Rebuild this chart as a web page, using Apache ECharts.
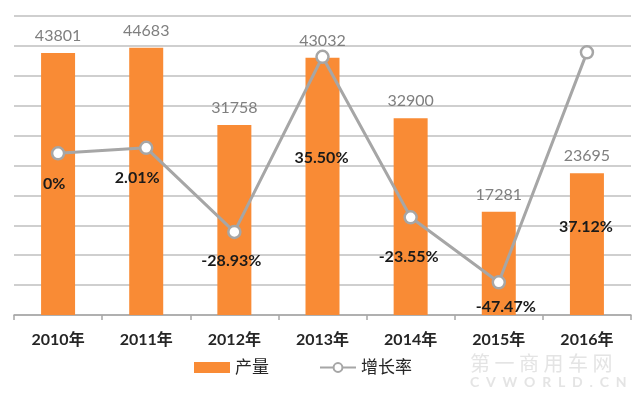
<!DOCTYPE html>
<html>
<head>
<meta charset="utf-8">
<script src="https://cdn.jsdelivr.net/npm/echarts@6/dist/echarts.min.js"></script>
<style>html,body{margin:0;padding:0;background:#fff;}#c{width:640px;height:395px;}</style>
</head>
<body>
<div id="c"></div>
<script>
const categories = ['2010年','2011年','2012年','2013年','2014年','2015年','2016年'];
const output = [43801, 44683, 31758, 43032, 32900, 17281, 23695];
const growth = [0, 2.01, -28.93, 35.50, -23.55, -47.47, 37.12];
const growthLabels = ['0%','2.01%','-28.93%','35.50%','-23.55%','-47.47%','37.12%'];
// label offsets (layout only) relative to each point
const growthLabelOffsets = [[-4,31],[-9,30],[-3,29],[-1,101],[-2,40],[7,25],[-1,174]];

const font = "Lato, 'Noto Sans CJK SC', sans-serif";
const chart = echarts.init(document.getElementById('c'));
chart.setOption({
  animation: false,
  textStyle: {fontFamily: font},
  grid: {left: 14, right: 9, top: 16, bottom: 80, containLabel: false},
  legend: {
    left: 189, top: 354, itemGap: 50, itemWidth: 36, itemHeight: 11,
    textStyle: {fontSize: 17, color: '#262626', fontFamily: font},
    data: [{name: '产量', icon: 'rect'}, {name: '增长率'}]
  },
  xAxis: {
    type: 'category', data: categories,
    axisLine: {lineStyle: {color: '#a6a6a6', width: 1.5}},
    axisTick: {show: true, length: 5, lineStyle: {color: '#a6a6a6', width: 1.5}},
    axisLabel: {fontSize: 16, color: '#262626', fontWeight: 'bold', margin: 17, fontFamily: font}
  },
  yAxis: [
    {type: 'value', min: 0, max: 50000, interval: 5000,
     axisLabel: {show: false}, axisLine: {show: false}, axisTick: {show: false},
     splitLine: {lineStyle: {color: '#bfbfbf', width: 1.5}}},
    {type: 'value', min: -59.5, max: 50.5,
     axisLabel: {show: false}, axisLine: {show: false}, axisTick: {show: false},
     splitLine: {show: false}}
  ],
  series: [
    {
      name: '产量', type: 'bar', data: output, barWidth: 34, yAxisIndex: 0,
      itemStyle: {color: '#F98B35'},
      label: {show: true, position: 'top', distance: 9, fontSize: 16, color: '#7f7f7f', fontFamily: font}
    },
    {
      name: '增长率', type: 'line', yAxisIndex: 1, z: 5,
      data: growth.map((v, i) => ({
        value: v,
        label: {offset: growthLabelOffsets[i]}
      })),
      symbol: 'circle', symbolSize: 12,
      lineStyle: {color: '#a6a6a6', width: 3},
      itemStyle: {color: '#ffffff', borderColor: '#a6a6a6', borderWidth: 2.5},
      label: {
        show: true, position: 'inside', align: 'center', verticalAlign: 'middle',
        fontSize: 16, fontWeight: 'bold', color: '#1a1a1a', fontFamily: font,
        formatter: p => growthLabels[p.dataIndex]
      }
    }
  ],
  graphic: [
    {type: 'text', left: 470, top: 353, z: 100,
     style: {text: '第 一 商 用 车 网', fontSize: 20, fill: 'rgba(225,225,225,0.9)', fontFamily: "'Noto Sans CJK SC'", letterSpacing: 6}},
    {type: 'text', left: 470, top: 375, z: 100,
     style: {text: 'C  V  W  O  R  L  D  .  C  N', fontSize: 14, fontWeight: 'bold', fill: 'rgba(225,225,225,0.9)', fontFamily: font}}
  ]
});
</script>
</body>
</html>
